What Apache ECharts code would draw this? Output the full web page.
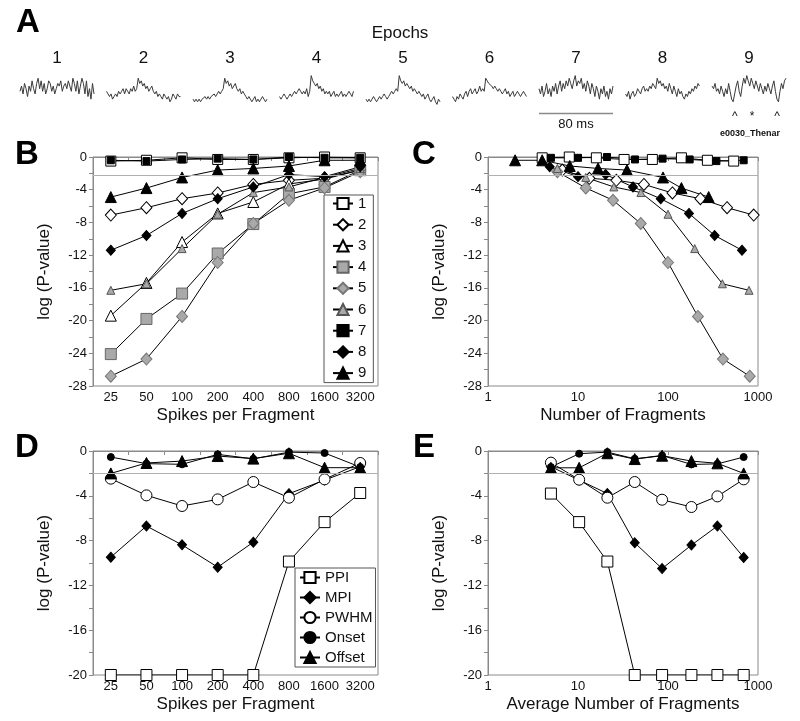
<!DOCTYPE html>
<html><head><meta charset="utf-8">
<script src="https://cdn.jsdelivr.net/npm/echarts@6/dist/echarts.min.js"></script>
<style>html,body{margin:0;padding:0;background:#fff}#c{width:800px;height:721px}</style>
</head><body><div id="c"></div>
<script>
// ---------- DATA ----------
const spikesPerFragment = ['25','50','100','200','400','800','1600','3200'];
const epochNames = ['1','2','3','4','5','6','7','8','9'];
// Panel B: log(P) per epoch vs spikes per fragment
const ep1 = [-0.5,-0.4,-0.1,-0.3,-0.3,-0.1,0,-0.1];
const ep2 = [-7.1,-6.2,-5.1,-4.4,-3.35,-2.85,-2.6,-1.6];
const ep3 = [-19.4,-15.4,-10.4,-6.9,-5.5,-3.3,-2.7,-1.6];
const ep4 = [-24.1,-19.8,-16.7,-11.8,-8.2,-4.5,-3.66,-1.6];
const ep5 = [-26.8,-24.7,-19.5,-12.9,-8.13,-5.29,-3.78,-1.8];
const ep6 = [-16.3,-15.5,-11.2,-7.0,-4.35,-3.66,-2.5,-1.4];
const ep7 = [-0.4,-0.5,-0.3,-0.2,-0.3,0,-0.1,-0.1];
const ep8 = [-11.4,-9.6,-6.9,-5.1,-3.66,-2.15,-2.4,-1.2];
const ep9 = [-4.9,-3.8,-2.5,-1.6,-1.4,-1.1,-0.4,-0.4];
// Panel C: number of fragments (same order as B values)
const frag1 = [537,274,141,67,32.5,16,8,4];
const frag2 = [896,453,229,112,54,26.7,13.4,6.7];
const frag5 = [809,408,215,100,49.8,24.5,12.2,5.9];
const frag6 = [795,402,198,100,50,25,12.2,5.9];
const frag7 = [693,345,174,87,43,21,10,5];
const frag8 = [664,330,171,83,40.8,20.3,10,4.85];
const frag9 = [283,141,88,35,16.7,8.1,4,2];
// Panel D: waveform measures vs spikes per fragment
const ppi    = [-20,-20,-20,-20,-20,-9.87,-6.35,-3.75];
const mpi    = [-9.48,-6.7,-8.38,-10.37,-8.14,-3.81,-2.6,-1.4];
const pwhm   = [-2.47,-3.96,-4.91,-4.32,-2.77,-4.17,-2.53,-1.07];
const onset  = [-0.54,-1.13,-1.19,-0.3,-0.7,-0.1,-0.18,-1.43];
const offset = [-2.0,-1.07,-0.9,-0.45,-0.68,-0.2,-1.49,-1.49];
// Panel E: average number of fragments
const avgFrag = [5,10.3,21.2,42.7,86,182,354,693];
const ppiE    = [-3.8,-6.35,-9.87,-20,-20,-20,-20,-20];
const mpiE    = [-1.4,-2.6,-3.8,-8.2,-10.5,-8.4,-6.7,-9.5];
const pwhmE   = [-1.04,-2.56,-4.17,-2.77,-4.35,-5.0,-4.05,-2.53];
const onsetE  = [-1.43,-0.24,-0.1,-0.7,-0.4,-1.2,-1.15,-0.54];
const offsetE = [-1.5,-1.5,-0.2,-0.72,-0.42,-0.9,-1.1,-2.0];
const thresholdBC = -2.25, thresholdDE = -2;
// Panel A: epoch waveform traces (arbitrary units)
const trace1 = [5,7,4,8,6,3,7,5,9,6,4,8,10,6,9,5,8,4,6,9,8,5,7,4,6,8,7,9,5,7,8,6,9,7,5,10,8,5,9,4,7,10,8,4,9,3,6,2,8,4];
const trace2 = [5,4,3,4,2,3,4,3,5,4,5,6,4,6,5,4,6,5,7,5,6,10,8,9,7,8,6,7,5,6,7,5,4,5,3,4,3,2,4,3,2,3,1,2,4,3,2,4,3,3];
const trace3 = [2,1,2,1,2,1,2,2,3,2,3,2,3,3,4,3,4,5,4,5,6,10,8,9,7,8,6,7,8,6,5,6,4,5,4,3,2,3,2,1,2,3,1,2,1,2,3,2,1,2];
const trace4 = [3,2,3,4,3,2,3,4,3,4,5,4,5,6,5,4,5,4,6,3,5,11,9,8,7,8,6,7,5,6,4,5,4,5,3,4,5,3,4,3,4,5,3,4,3,4,5,4,3,5];
const trace5 = [2,1,2,1,2,3,2,1,2,3,2,3,4,3,2,3,4,5,4,5,6,5,11,9,8,9,7,8,7,6,7,5,6,5,4,5,4,3,4,2,3,4,2,1,2,3,1,0,2,1];
const trace6 = [3,2,1,3,2,4,3,2,4,5,3,5,6,4,5,6,4,5,7,5,6,5,10,9,8,8,7,6,7,6,5,6,5,4,5,6,4,5,3,4,5,3,4,5,4,3,4,5,4,3];
const trace7 = [6,4,7,3,5,8,4,6,3,7,5,8,4,7,9,5,8,6,9,7,10,8,6,9,11,7,9,8,10,6,8,5,9,7,4,8,6,3,7,5,2,6,4,7,3,5,2,6,4,7];
const trace8 = [4,3,5,2,4,5,3,4,6,5,4,6,7,5,6,5,7,6,8,7,6,10,8,9,7,8,6,7,5,8,6,4,7,5,3,6,4,5,3,2,4,3,5,4,6,5,7,6,8,7];
const trace9 = [7,6,8,5,6,4,7,5,3,6,4,8,5,2,1,4,7,9,5,3,7,10,8,11,9,7,10,8,6,9,7,5,8,6,4,7,5,8,6,4,7,9,5,2,1,5,8,6,9,10];
const traces = [trace1,trace2,trace3,trace4,trace5,trace6,trace7,trace8,trace9];

// ---------- STYLE / BUILD ----------
const FF = '"Liberation Sans", Arial, sans-serif';
const AX = '#8a8a8a';
const GRAY = '#a9a9a9';
const chart = echarts.init(document.getElementById('c'), null, {renderer: 'canvas'});

const grids = [
  {left: 93, top: 157, width: 285, height: 229},
  {left: 488, top: 157, width: 270, height: 229},
  {left: 93, top: 451, width: 285, height: 224},
  {left: 488, top: 451, width: 270, height: 224}
].map(g => Object.assign({show: true, borderColor: AX, borderWidth: 1, containLabel: false}, g));

const trLeft0 = 20, trStep = 86.5, trW = 74;
traces.forEach((t, i) => grids.push({left: trLeft0 + trStep * i, top: 73, width: trW, height: 34, show: false}));

const axisBase = {
  axisLine: {show: true, lineStyle: {color: AX, width: 1}},
  axisTick: {show: true, length: 4, lineStyle: {color: AX}},
  axisLabel: {color: '#111', fontSize: 13, fontFamily: FF, margin: 5},
  splitLine: {show: false},
  nameTextStyle: {color: '#111', fontSize: 17, fontFamily: FF},
  nameLocation: 'middle'
};
function catX(gi, name) {
  return Object.assign({}, axisBase, {type: 'category', gridIndex: gi, data: spikesPerFragment, boundaryGap: true, name, nameGap: 21,
    axisLabel: Object.assign({}, axisBase.axisLabel, {interval: 0})});
}
function logX(gi, name) {
  return Object.assign({}, axisBase, {type: 'log', logBase: 10, gridIndex: gi, min: 1, max: 1000, name, nameGap: 21,
    axisLabel: Object.assign({}, axisBase.axisLabel, {formatter: v => String(Math.round(v))})});
}
function valY(gi, min) {
  return Object.assign({}, axisBase, {
    type: 'value', gridIndex: gi, min, max: 0, interval: 4,
    name: 'log (P-value)', nameGap: 40,
    axisLabel: Object.assign({}, axisBase.axisLabel, {margin: 6}),
    minorTick: {show: true, splitNumber: 2, length: 4, lineStyle: {color: AX}},
    minorSplitLine: {show: false}
  });
}
const xAxis = [catX(0, 'Spikes per Fragment'), logX(1, 'Number of Fragments'), catX(2, 'Spikes per Fragment'), logX(3, 'Average Number of Fragments')];
const yAxis = [valY(0, -28), valY(1, -28), valY(2, -20), valY(3, -20)];
traces.forEach((t, i) => {
  xAxis.push({type: 'category', gridIndex: 4 + i, show: false, boundaryGap: false, data: t.map((_, k) => k)});
  yAxis.push({type: 'value', gridIndex: 4 + i, show: false, min: -1, max: 12});
});

const sty = {
  '1': {symbol: 'rect', size: 10, fill: '#fff', border: '#000'},
  '2': {symbol: 'diamond', size: [11, 12], fill: '#fff', border: '#000'},
  '3': {symbol: 'triangle', size: 11, fill: '#fff', border: '#000'},
  '4': {symbol: 'rect', size: 11, fill: GRAY, border: '#666'},
  '5': {symbol: 'diamond', size: [11, 12], fill: GRAY, border: '#777'},
  '6': {symbol: 'triangle', size: 8, fill: GRAY, border: '#555'},
  '7': {symbol: 'rect', size: 7, fill: '#000', border: '#000'},
  '8': {symbol: 'diamond', size: [9, 10], fill: '#000', border: '#000'},
  '9': {symbol: 'triangle', size: 11, fill: '#000', border: '#000'},
  'PPI': {symbol: 'rect', size: 11, fill: '#fff', border: '#000'},
  'MPI': {symbol: 'diamond', size: [9, 10], fill: '#000', border: '#000'},
  'PWHM': {symbol: 'circle', size: 11, fill: '#fff', border: '#000'},
  'Onset': {symbol: 'circle', size: 7, fill: '#000', border: '#000'},
  'Offset': {symbol: 'triangle', size: 11, fill: '#000', border: '#000'}
};
function mk(name, data, ai, thr) {
  const s = sty[name];
  const o = {
    type: 'line', name, data, xAxisIndex: ai, yAxisIndex: ai,
    symbol: s.symbol, symbolSize: s.size, showAllSymbol: true, animation: false,
    lineStyle: {color: '#000', width: 1},
    itemStyle: {color: s.fill, borderColor: s.border, borderWidth: 1},
    emphasis: {disabled: true}, silent: true
  };
  if (thr !== undefined) {
    o.markLine = {silent: true, symbol: 'none', animation: false, label: {show: false},
      lineStyle: {color: '#b0b0b0', width: 1, type: 'solid'}, data: [{yAxis: thr}]};
  }
  return o;
}
const zip = (xs, ys) => xs.map((x, i) => [x, ys[i]]);

const series = [];
// B
const bVals = [ep1, ep2, ep3, ep4, ep5, ep6, ep7, ep8, ep9];
bVals.forEach((v, i) => series.push(mk(epochNames[i], v, 0, i === 0 ? thresholdBC : undefined)));
// C
series.push(mk('1', zip(frag1, ep1), 1, thresholdBC));
series.push(mk('2', zip(frag2, ep2), 1));
series.push(mk('5', zip(frag5, ep5), 1));
series.push(mk('6', zip(frag6, ep6), 1));
series.push(mk('7', zip(frag7, ep7), 1));
series.push(mk('8', zip(frag8, ep8), 1));
series.push(mk('9', zip(frag9, ep9), 1));
// D
series.push(mk('PPI', ppi, 2, thresholdDE));
series.push(mk('MPI', mpi, 2));
series.push(mk('PWHM', pwhm, 2));
series.push(mk('Onset', onset, 2));
series.push(mk('Offset', offset, 2));
// E
series.push(mk('PPI', zip(avgFrag, ppiE), 3, thresholdDE));
series.push(mk('MPI', zip(avgFrag, mpiE), 3));
series.push(mk('PWHM', zip(avgFrag, pwhmE), 3));
series.push(mk('Onset', zip(avgFrag, onsetE), 3));
series.push(mk('Offset', zip(avgFrag, offsetE), 3));
// A traces
traces.forEach((t, i) => series.push({
  type: 'line', name: 'trace' + (i + 1), data: t, xAxisIndex: 4 + i, yAxisIndex: 4 + i,
  symbol: 'none', animation: false, silent: true, lineStyle: {color: '#3a3a3a', width: 1}
}));

const legendBase = {
  orient: 'vertical', show: true, selectedMode: false,
  borderColor: '#555', borderWidth: 1, backgroundColor: '#fff',
  itemWidth: 20, itemHeight: 14,
  textStyle: {fontSize: 15, fontFamily: FF, color: '#111'}
};
const legend = [
  Object.assign({}, legendBase, {data: epochNames, left: 324, top: 195, padding: [1, 7, 2, 8], itemGap: 6.2}),
  Object.assign({}, legendBase, {data: ['PPI','MPI','PWHM','Onset','Offset'], left: 295, top: 568, padding: [2, 3, 2, 4], itemGap: 5})
];

const graphic = [];
const letter = (t, x, y) => graphic.push({type: 'text', left: x, top: y, style: {text: t, font: 'bold 33px ' + FF, fill: '#000'}});
letter('A', 16, 6); letter('B', 15, 138); letter('C', 412, 138); letter('D', 15, 431); letter('E', 413, 431);
graphic.push({type: 'text', x: 400, y: 33, style: {text: 'Epochs', font: '17px ' + FF, fill: '#111', align: 'center', verticalAlign: 'middle'}});
epochNames.forEach((n, i) => graphic.push({type: 'text', x: trLeft0 + trStep * i + trW / 2, y: 58,
  style: {text: n, font: '17px ' + FF, fill: '#111', align: 'center', verticalAlign: 'middle'}}));
// scale bar under epoch 7 (spans one trace width = 80 ms)
const sbL = trLeft0 + trStep * 6;
graphic.push({type: 'line', shape: {x1: sbL, y1: 113.5, x2: sbL + trW, y2: 113.5}, style: {stroke: '#8a8a8a', lineWidth: 1.5}});
graphic.push({type: 'text', x: sbL + trW / 2, y: 124, style: {text: '80 ms', font: '13px ' + FF, fill: '#111', align: 'center', verticalAlign: 'middle'}});
const t9L = trLeft0 + trStep * 8;
[['^', 0.31], ['*', 0.54], ['^', 0.88]].forEach(([s, f]) => graphic.push({type: 'text', x: t9L + trW * f, y: 117,
  style: {text: s, font: '12px ' + FF, fill: '#111', align: 'center', verticalAlign: 'middle'}}));
graphic.push({type: 'text', x: 750, y: 134, style: {text: 'e0030_Thenar', font: 'bold 9px ' + FF, fill: '#111', align: 'center', verticalAlign: 'middle'}});

chart.setOption({
  backgroundColor: '#fff',
  animation: false,
  textStyle: {fontFamily: FF},
  grid: grids, xAxis, yAxis, series, legend, graphic
});
</script></body></html>
